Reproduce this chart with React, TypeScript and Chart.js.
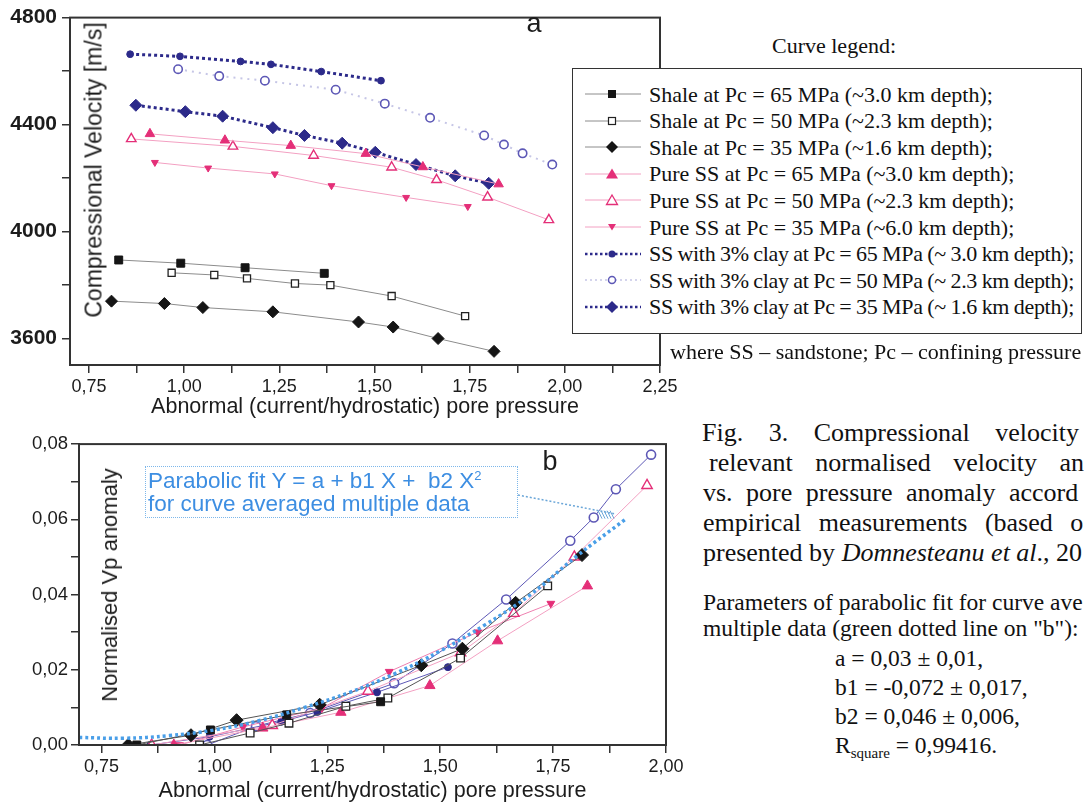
import React, { useEffect, useRef } from 'react';
import { Chart, registerables } from 'chart.js';

Chart.register(...registerables);

const SANS = '"Liberation Sans", Arial, Helvetica, sans-serif';
const SERIF = '"Liberation Serif", "Times New Roman", Times, serif';

// ---------------- Panel a : compressional velocity [m/s] ----------------
const shale65X = [0.828, 0.991, 1.16, 1.368];
const shale65V = [3893, 3881, 3864, 3843];
const shale50X = [0.967, 1.079, 1.165, 1.291, 1.384, 1.545, 1.738];
const shale50V = [3845, 3837, 3824, 3805, 3799, 3758, 3683];
const shale35X = [0.809, 0.948, 1.049, 1.233, 1.458, 1.549, 1.667, 1.814];
const shale35V = [3739, 3730, 3715, 3699, 3661, 3642, 3599, 3551];
const pure65X = [0.91, 1.107, 1.28, 1.477, 1.627, 1.826];
const pure65V = [4365, 4341, 4321, 4291, 4241, 4177];
const pure50X = [0.861, 1.128, 1.34, 1.545, 1.663, 1.797, 1.958];
const pure50V = [4346, 4318, 4284, 4240, 4193, 4128, 4043];
const pure35X = [0.923, 1.063, 1.238, 1.387, 1.583, 1.745];
const pure35V = [4258, 4237, 4215, 4171, 4127, 4093];
const clay65X = [0.858, 0.989, 1.148, 1.228, 1.36, 1.517];
const clay65V = [4663, 4655, 4636, 4625, 4598, 4564];
const clay50X = [0.984, 1.092, 1.212, 1.398, 1.527, 1.646, 1.788, 1.84, 1.889, 1.967];
const clay50V = [4607, 4581, 4564, 4530, 4478, 4425, 4359, 4325, 4292, 4250];
const clay35X = [0.873, 1.003, 1.101, 1.233, 1.316, 1.415, 1.502, 1.609, 1.712, 1.8];
const clay35V = [4472, 4448, 4431, 4388, 4359, 4330, 4296, 4250, 4208, 4180];

// ---------------- Panel b : normalised Vp anomaly ----------------
const shale65N = [0, 0.004, 0.008, 0.0115];
const shale50N = [0, 0.0032, 0.0058, 0.0103, 0.0125, 0.0231, 0.0423];
const shale35N = [0, 0.0026, 0.0066, 0.0107, 0.0212, 0.0256, 0.0378, 0.0505];
const pure65N = [0, 0.0045, 0.0087, 0.0158, 0.0277, 0.0423];
const pure50N = [0, 0.0052, 0.0143, 0.0245, 0.035, 0.05, 0.069];
const pure35N = [0, 0.0048, 0.0098, 0.0195, 0.03, 0.0376];
const clay65N = [0, 0.0022, 0.0062, 0.0088, 0.014, 0.0207];
const clay50N = [0, 0.005, 0.0085, 0.0164, 0.027, 0.0387, 0.0543, 0.0605, 0.068, 0.0772];
const fitX = [0.7, 0.8, 0.9, 1.0, 1.1, 1.2, 1.3, 1.4, 1.5, 1.6, 1.7, 1.8, 1.91];
const fitY = [0.002, 0.0018, 0.0025, 0.004, 0.0065, 0.01, 0.014, 0.019, 0.025, 0.032, 0.04, 0.05, 0.06];

// ---------------- ticks ----------------
const aXTicks = [0.75, 0.875, 1.0, 1.125, 1.25, 1.375, 1.5, 1.625, 1.75, 1.875, 2.0, 2.125, 2.25];
const aYTicks = [3600, 3800, 4000, 4200, 4400, 4600, 4800];
const aYLabelled = [3600, 4000, 4400, 4800];
const bXTicks = [0.75, 0.875, 1.0, 1.125, 1.25, 1.375, 1.5, 1.625, 1.75, 1.875, 2.0];
const bYTicks = [0, 0.01, 0.02, 0.03, 0.04, 0.05, 0.06, 0.07, 0.08];

// ---------------- texts ----------------
const legendLabels = [
  'Shale at Pc = 65 MPa (~3.0 km depth);',
  'Shale at Pc = 50 MPa (~2.3 km depth);',
  'Shale at Pc = 35 MPa (~1.6 km depth);',
  'Pure SS at Pc = 65 MPa (~3.0 km depth);',
  'Pure SS at Pc = 50 MPa (~2.3 km depth);',
  'Pure SS at Pc = 35 MPa (~6.0 km depth);',
  'SS with 3% clay at Pc = 65 MPa (~ 3.0 km depth);',
  'SS with 3% clay at Pc = 50 MPa (~ 2.3 km depth);',
  'SS with 3% clay at Pc = 35 MPa (~ 1.6 km depth);',
];

const GRAY_LINE = '#8c8c8c';
const BLACK = '#151515';
const PINK_LINE = '#f3a0c2';
const MAGENTA = '#e42f78';
const NAVY = '#2c2a8a';
const VIOLET = '#5d58b6';
const LIGHT_DOT = '#c6c6e6';
const FIT_BLUE = '#4a9fe8';

const comma2 = (v: number) => v.toFixed(2).replace('.', ',');
const isMult = (v: number, step: number) => Math.abs(v / step - Math.round(v / step)) < 1e-6;
const pts = (xs: number[], ys: number[]) => xs.map((x, i) => ({ x, y: ys[i] }));

const framePlugin = {
  id: 'frame',
  afterDatasetsDraw(chart: any, _a: any, opts: any) {
    const { ctx, chartArea: a } = chart;
    ctx.save();
    ctx.strokeStyle = opts.color || '#333';
    ctx.lineWidth = opts.width || 2;
    ctx.strokeRect(a.left, a.top, a.right - a.left, a.bottom - a.top);
    ctx.restore();
  },
};

const leaderPlugin = {
  id: 'leader',
  afterDatasetsDraw(chart: any, _a: any, opts: any) {
    if (!opts || !opts.enabled) return;
    const { ctx } = chart;
    const xs = chart.scales.x;
    const ys = chart.scales.y;
    const ex = xs.getPixelForValue(opts.toX);
    const ey = ys.getPixelForValue(opts.toY);
    ctx.save();
    ctx.strokeStyle = '#6aa6d8';
    ctx.lineWidth = 1.5;
    ctx.setLineDash([2, 2]);
    ctx.beginPath();
    ctx.moveTo(opts.fromX, opts.fromY);
    ctx.lineTo(ex, ey);
    ctx.stroke();
    ctx.setLineDash([]);
    ctx.lineWidth = 1;
    for (let i = 0; i < 5; i++) {
      ctx.beginPath();
      ctx.moveTo(ex - 16 + i * 3, ey - 3);
      ctx.lineTo(ex - 12 + i * 3, ey + 5);
      ctx.stroke();
    }
    ctx.restore();
  },
};

function axisCommon(ticks: number[], labelFn: (v: number) => string, font: any, padding: number) {
  return {
    type: 'linear',
    afterBuildTicks: (s: any) => {
      s.ticks = ticks.map((v) => ({ value: v }));
    },
    grid: { drawOnChartArea: false, drawTicks: true, tickLength: 8, color: '#333', tickColor: '#333', lineWidth: 1.5 },
    border: { display: true, color: '#333', width: 2 },
    ticks: {
      autoSkip: false,
      maxRotation: 0,
      minRotation: 0,
      padding,
      color: '#1c1c1c',
      font,
      callback: (v: any) => labelFn(Number(v)),
    },
  };
}

function ChartA() {
  const ref = useRef<HTMLCanvasElement>(null);
  useEffect(() => {
    if (!ref.current) return;
    const line = (label: string, xs: number[], ys: number[], o: any) => ({
      label,
      data: pts(xs, ys),
      showLine: true,
      tension: 0,
      borderWidth: 1,
      ...o,
    });
    const chart = new Chart(ref.current, {
      type: 'scatter',
      data: {
        datasets: [
          line(legendLabels[0], shale65X, shale65V, { borderColor: GRAY_LINE, pointStyle: 'rect', pointRadius: 5.6, pointBackgroundColor: BLACK, pointBorderColor: BLACK, pointBorderWidth: 1 }),
          line(legendLabels[1], shale50X, shale50V, { borderColor: GRAY_LINE, pointStyle: 'rect', pointRadius: 5, pointBackgroundColor: '#fff', pointBorderColor: '#222', pointBorderWidth: 1.3 }),
          line(legendLabels[2], shale35X, shale35V, { borderColor: GRAY_LINE, pointStyle: 'rectRot', pointRadius: 6, pointBackgroundColor: BLACK, pointBorderColor: BLACK, pointBorderWidth: 1 }),
          line(legendLabels[3], pure65X, pure65V, { borderColor: PINK_LINE, pointStyle: 'triangle', pointRadius: 5.5, pointBackgroundColor: MAGENTA, pointBorderColor: MAGENTA, pointBorderWidth: 1 }),
          line(legendLabels[4], pure50X, pure50V, { borderColor: PINK_LINE, pointStyle: 'triangle', pointRadius: 5.5, pointBackgroundColor: '#fff', pointBorderColor: MAGENTA, pointBorderWidth: 1.4 }),
          line(legendLabels[5], pure35X, pure35V, { borderColor: PINK_LINE, pointStyle: 'triangle', pointRotation: 180, pointRadius: 4, pointBackgroundColor: MAGENTA, pointBorderColor: MAGENTA, pointBorderWidth: 1 }),
          line(legendLabels[6], clay65X, clay65V, { borderColor: NAVY, borderWidth: 3, borderDash: [3, 3], pointStyle: 'circle', pointRadius: 3.4, pointBackgroundColor: NAVY, pointBorderColor: NAVY, pointBorderWidth: 1 }),
          line(legendLabels[7], clay50X, clay50V, { borderColor: LIGHT_DOT, borderWidth: 2, borderDash: [2, 5], pointStyle: 'circle', pointRadius: 4.2, pointBackgroundColor: '#fff', pointBorderColor: VIOLET, pointBorderWidth: 1.6 }),
          line(legendLabels[8], clay35X, clay35V, { borderColor: NAVY, borderWidth: 3, borderDash: [3, 3], pointStyle: 'rectRot', pointRadius: 6, pointBackgroundColor: NAVY, pointBorderColor: NAVY, pointBorderWidth: 1 }),
        ],
      },
      options: {
        responsive: false,
        animation: false,
        devicePixelRatio: 1,
        layout: { padding: { top: 15, right: 40, left: 0, bottom: 0 } },
        plugins: { legend: { display: false }, tooltip: { enabled: false }, frame: { color: '#333', width: 2 } } as any,
        scales: {
          x: {
            ...axisCommon(aXTicks, (v) => (isMult(v, 0.25) ? comma2(v) : ''), { family: SANS, size: 18 }, 3),
            min: 0.7,
            max: 2.25,
            afterFit: (s: any) => {
              s.height = 65;
            },
            title: {
              display: true,
              text: 'Abnormal (current/hydrostatic) pore pressure',
              color: '#1c1c1c',
              font: { family: SANS, size: 21.5 },
              padding: { top: 0, bottom: 10 },
            },
          },
          y: {
            ...axisCommon(aYTicks, (v) => (aYLabelled.includes(Math.round(v)) ? String(Math.round(v)) : ''), { family: SANS, size: 21, weight: 'bold' }, 5),
            min: 3500,
            max: 4800,
            afterFit: (s: any) => {
              s.width = 70;
            },
          },
        } as any,
      },
      plugins: [framePlugin],
    } as any);
    return () => chart.destroy();
  }, []);
  return <canvas ref={ref} width={700} height={430} style={{ position: 'absolute', left: 0, top: 0 }} />;
}

function ChartB() {
  const ref = useRef<HTMLCanvasElement>(null);
  useEffect(() => {
    if (!ref.current) return;
    const line = (label: string, xs: number[], ys: number[], o: any) => ({
      label,
      data: pts(xs, ys),
      showLine: true,
      tension: 0,
      borderWidth: 1,
      order: 1,
      ...o,
    });
    const chart = new Chart(ref.current, {
      type: 'scatter',
      data: {
        datasets: [
          {
            label: 'Parabolic fit',
            data: pts(fitX, fitY),
            showLine: true,
            tension: 0.4,
            borderColor: FIT_BLUE,
            borderWidth: 3.5,
            borderDash: [3, 3],
            pointRadius: 0,
            order: 0,
          },
          line(legendLabels[0], shale65X, shale65N, { borderColor: '#555', pointStyle: 'rect', pointRadius: 5.6, pointBackgroundColor: BLACK, pointBorderColor: BLACK }),
          line(legendLabels[1], shale50X, shale50N, { borderColor: '#555', pointStyle: 'rect', pointRadius: 5.4, pointBackgroundColor: '#fff', pointBorderColor: '#222', pointBorderWidth: 1.3 }),
          line(legendLabels[2], shale35X, shale35N, { borderColor: '#555', pointStyle: 'rectRot', pointRadius: 6.5, pointBackgroundColor: BLACK, pointBorderColor: BLACK }),
          line(legendLabels[3], pure65X, pure65N, { borderColor: PINK_LINE, pointStyle: 'triangle', pointRadius: 6, pointBackgroundColor: MAGENTA, pointBorderColor: MAGENTA }),
          line(legendLabels[4], pure50X, pure50N, { borderColor: PINK_LINE, pointStyle: 'triangle', pointRadius: 6, pointBackgroundColor: '#fff', pointBorderColor: MAGENTA, pointBorderWidth: 1.4 }),
          line(legendLabels[5], pure35X, pure35N, { borderColor: '#ee80b0', pointStyle: 'triangle', pointRotation: 180, pointRadius: 4.5, pointBackgroundColor: MAGENTA, pointBorderColor: MAGENTA }),
          line(legendLabels[6], clay65X, clay65N, { borderColor: VIOLET, pointStyle: 'circle', pointRadius: 3.5, pointBackgroundColor: NAVY, pointBorderColor: NAVY }),
          line(legendLabels[7], clay50X, clay50N, { borderColor: VIOLET, pointStyle: 'circle', pointRadius: 4.5, pointBackgroundColor: '#fff', pointBorderColor: VIOLET, pointBorderWidth: 1.6 }),
        ],
      },
      options: {
        responsive: false,
        animation: false,
        devicePixelRatio: 1,
        layout: { padding: { top: 14, right: 34, left: 0, bottom: 0 } },
        plugins: {
          legend: { display: false },
          tooltip: { enabled: false },
          frame: { color: '#333', width: 2 },
          leader: { enabled: true, fromX: 518, fromY: 65, toX: 1.885, toY: 0.0615 },
        } as any,
        scales: {
          x: {
            ...axisCommon(bXTicks, (v) => (isMult(v, 0.25) ? comma2(v) : ''), { family: SANS, size: 18 }, 3),
            min: 0.7,
            max: 2.0,
            afterFit: (s: any) => {
              s.height = 62;
            },
            title: {
              display: true,
              text: 'Abnormal (current/hydrostatic) pore pressure',
              color: '#1c1c1c',
              font: { family: SANS, size: 21.5 },
              padding: { top: 0, bottom: 3 },
            },
          },
          y: {
            ...axisCommon(bYTicks, (v) => (isMult(v, 0.02) ? comma2(v) : ''), { family: SANS, size: 18.5 }, 3),
            min: 0,
            max: 0.08,
            afterFit: (s: any) => {
              s.width = 79;
            },
          },
        } as any,
      },
      plugins: [framePlugin, leaderPlugin],
    } as any);
    return () => chart.destroy();
  }, []);
  return <canvas ref={ref} width={700} height={377} style={{ position: 'absolute', left: 0, top: 430 }} />;
}

type MarkKind = 'sqFill' | 'sqOpen' | 'diaFill' | 'triFill' | 'triOpen' | 'triDown' | 'circFill' | 'circOpen' | 'diaNavy';
const legendMarks: MarkKind[] = ['sqFill', 'sqOpen', 'diaFill', 'triFill', 'triOpen', 'triDown', 'circFill', 'circOpen', 'diaNavy'];
const legendLines = [
  { c: GRAY_LINE, w: 1, d: '' },
  { c: GRAY_LINE, w: 1, d: '' },
  { c: GRAY_LINE, w: 1, d: '' },
  { c: PINK_LINE, w: 1, d: '' },
  { c: PINK_LINE, w: 1, d: '' },
  { c: PINK_LINE, w: 1, d: '' },
  { c: NAVY, w: 2.5, d: '2.5 2.5' },
  { c: LIGHT_DOT, w: 1.5, d: '2 3' },
  { c: NAVY, w: 2.5, d: '2.5 2.5' },
];

function Mark({ kind }: { kind: MarkKind }) {
  switch (kind) {
    case 'sqFill':
      return <rect x={23} y={4} width={8} height={8} fill={BLACK} />;
    case 'sqOpen':
      return <rect x={23.5} y={4.5} width={7} height={7} fill="#fff" stroke="#222" strokeWidth={1.2} />;
    case 'diaFill':
      return <polygon points="27,2 33,8 27,14 21,8" fill={BLACK} />;
    case 'triFill':
      return <polygon points="27,2.5 33,12.5 21,12.5" fill={MAGENTA} />;
    case 'triOpen':
      return <polygon points="27,3 32.5,12.5 21.5,12.5" fill="#fff" stroke={MAGENTA} strokeWidth={1.3} />;
    case 'triDown':
      return <polygon points="23,5 31,5 27,11.5" fill={MAGENTA} />;
    case 'circFill':
      return <circle cx={27} cy={8} r={3.5} fill={NAVY} />;
    case 'circOpen':
      return <circle cx={27} cy={8} r={3.5} fill="#fff" stroke={VIOLET} strokeWidth={1.5} />;
    default:
      return <polygon points="27,2 33,8 27,14 21,8" fill={NAVY} />;
  }
}

const serifText = (extra: any) => ({
  position: 'absolute' as const,
  fontFamily: SERIF,
  color: '#111',
  whiteSpace: 'nowrap' as const,
  ...extra,
});

const captionLines = [
  { t: 'Fig. 3. Compressional velocity', x: 702, y: 433, ws: 19 },
  { t: 'relevant normalised velocity an', x: 709, y: 463, ws: 16 },
  { t: 'vs. pore pressure anomaly accord', x: 703, y: 493, ws: 7 },
  { t: 'empirical measurements (based o', x: 703, y: 523, ws: 11 },
];

export default function App() {
  const rowY = (i: number) => 25 + 26.6 * i;
  return (
    <div style={{ position: 'absolute', left: 0, top: 0, width: 1084, height: 807, overflow: 'hidden', background: '#fff' }}>
      <ChartA />
      <ChartB />

      {/* panel a annotations */}
      <div style={{ position: 'absolute', left: 94, top: 170, transform: 'translate(-50%, -50%) rotate(-90deg)', fontFamily: SANS, fontSize: 23, color: '#1c1c1c', whiteSpace: 'nowrap' }}>
        Compressional Velocity [m/s]
      </div>
      <div style={{ position: 'absolute', left: 534, top: 25, transform: 'translate(-50%, -55%)', fontFamily: SANS, fontSize: 27, color: '#1c1c1c' }}>a</div>

      {/* legend */}
      <div style={serifText({ left: 834, top: 46, transform: 'translate(-50%, -50%)', fontSize: 22 })}>Curve legend:</div>
      <div style={{ position: 'absolute', left: 572, top: 68, width: 508, height: 264, border: '1.5px solid #333', background: '#fff', overflow: 'hidden' }}>
        {legendLabels.map((lab, i) => (
          <React.Fragment key={i}>
            <svg width={56} height={16} style={{ position: 'absolute', left: 12, top: rowY(i) - 8 }}>
              <line x1={0} x2={56} y1={8} y2={8} stroke={legendLines[i].c} strokeWidth={legendLines[i].w} strokeDasharray={legendLines[i].d || undefined} />
              <Mark kind={legendMarks[i]} />
            </svg>
            <div
              style={serifText({
                left: 76,
                top: rowY(i) - 13.5,
                fontSize: 22,
                lineHeight: '27px',
                letterSpacing: i >= 6 ? '-0.3px' : '0px',
                wordSpacing: i >= 6 ? '-0.6px' : '0px',
              })}
            >
              {lab}
            </div>
          </React.Fragment>
        ))}
      </div>
      <div style={serifText({ left: 670, top: 352, transform: 'translateY(-50%)', fontSize: 22 })}>
        where SS – sandstone; Pc – confining pressure
      </div>

      {/* panel b annotations */}
      <div style={{ position: 'absolute', left: 110, top: 585, transform: 'translate(-50%, -50%) rotate(-90deg)', fontFamily: SANS, fontSize: 22, color: '#1c1c1c', whiteSpace: 'nowrap' }}>
        Normalised Vp anomaly
      </div>
      <div style={{ position: 'absolute', left: 550, top: 461, transform: 'translate(-50%, -50%)', fontFamily: SANS, fontSize: 27, color: '#1c1c1c' }}>b</div>
      <div style={{ position: 'absolute', left: 145, top: 466, width: 373, height: 52, border: '1.5px dotted #7db7ea', boxSizing: 'border-box' }}>
        <div style={{ position: 'absolute', left: 2, top: 2, fontFamily: SANS, fontSize: 22.5, lineHeight: '24px', color: '#3d8ee2', whiteSpace: 'nowrap' }}>
          Parabolic fit Y = a + b1 X +&nbsp; b2 X<sup style={{ fontSize: 13, verticalAlign: 'top', lineHeight: '13px' }}>2</sup>
        </div>
        <div style={{ position: 'absolute', left: 2, top: 25, fontFamily: SANS, fontSize: 22.5, lineHeight: '24px', color: '#3d8ee2', whiteSpace: 'nowrap' }}>
          for curve averaged multiple data
        </div>
      </div>

      {/* caption */}
      {captionLines.map((l, i) => (
        <div key={i} style={serifText({ left: l.x, top: l.y - 15, fontSize: 26, lineHeight: '30px', wordSpacing: l.ws + 'px' })}>
          {l.t}
        </div>
      ))}
      <div style={serifText({ left: 703, top: 553 - 15, fontSize: 26, lineHeight: '30px' })}>
        presented by <i>Domnesteanu et al</i>., 20
      </div>
      <div style={serifText({ left: 703, top: 602 - 13, fontSize: 23.5, lineHeight: '26px' })}>Parameters of parabolic fit for curve ave</div>
      <div style={serifText({ left: 703, top: 628 - 13, fontSize: 23.5, lineHeight: '26px' })}>multiple data (green dotted line on "b"):</div>
      <div style={serifText({ left: 835, top: 658 - 14, fontSize: 23.5, lineHeight: '28px' })}>a = 0,03 ± 0,01,</div>
      <div style={serifText({ left: 835, top: 687 - 14, fontSize: 23.5, lineHeight: '28px' })}>b1 = -0,072 ± 0,017,</div>
      <div style={serifText({ left: 835, top: 716 - 14, fontSize: 23.5, lineHeight: '28px' })}>b2 = 0,046 ± 0,006,</div>
      <div style={serifText({ left: 835, top: 745 - 14, fontSize: 23.5, lineHeight: '28px' })}>
        R<sub style={{ fontSize: 15, verticalAlign: '-5px', lineHeight: '10px' }}>square</sub> = 0,99416.
      </div>
    </div>
  );
}
